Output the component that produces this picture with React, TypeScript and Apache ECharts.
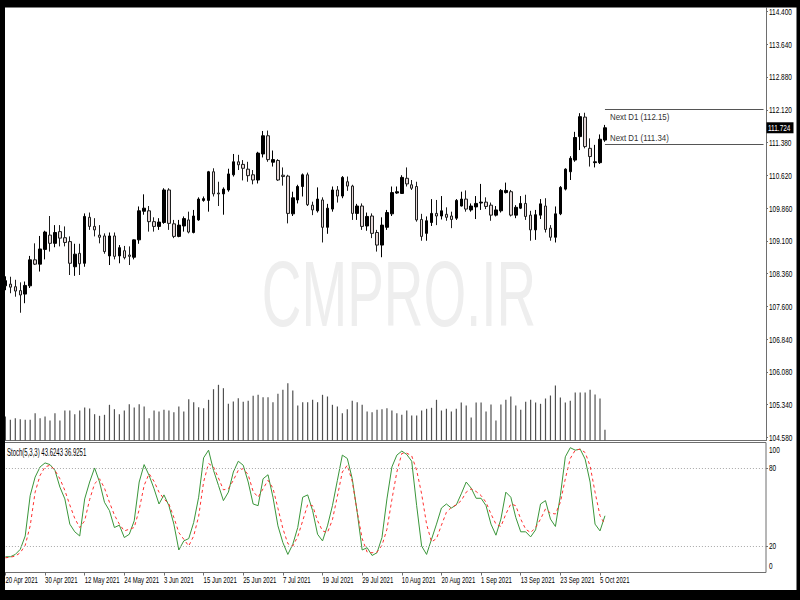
import React, { useEffect, useRef } from "react";
import * as echarts from "echarts";

// ---------- DATA ----------
const dates = [
  "20 Apr 2021", "21 Apr 2021", "22 Apr 2021", "23 Apr 2021", "26 Apr 2021", "27 Apr 2021", "28 Apr 2021", "29 Apr 2021", "30 Apr 2021",
  "3 May 2021", "4 May 2021", "5 May 2021", "6 May 2021", "7 May 2021", "10 May 2021", "11 May 2021", "12 May 2021", "13 May 2021", "14 May 2021",
  "17 May 2021", "18 May 2021", "19 May 2021", "20 May 2021", "21 May 2021", "24 May 2021", "25 May 2021", "26 May 2021", "27 May 2021", "28 May 2021", "31 May 2021",
  "1 Jun 2021", "2 Jun 2021", "3 Jun 2021", "4 Jun 2021", "7 Jun 2021", "8 Jun 2021", "9 Jun 2021", "10 Jun 2021", "11 Jun 2021", "14 Jun 2021", "15 Jun 2021",
  "16 Jun 2021", "17 Jun 2021", "18 Jun 2021", "21 Jun 2021", "22 Jun 2021", "23 Jun 2021", "24 Jun 2021", "25 Jun 2021", "28 Jun 2021", "29 Jun 2021", "30 Jun 2021",
  "1 Jul 2021", "2 Jul 2021", "5 Jul 2021", "6 Jul 2021", "7 Jul 2021", "8 Jul 2021", "9 Jul 2021", "12 Jul 2021", "13 Jul 2021", "14 Jul 2021", "15 Jul 2021",
  "16 Jul 2021", "19 Jul 2021", "20 Jul 2021", "21 Jul 2021", "22 Jul 2021", "23 Jul 2021", "26 Jul 2021", "27 Jul 2021", "28 Jul 2021", "29 Jul 2021", "30 Jul 2021",
  "2 Aug 2021", "3 Aug 2021", "4 Aug 2021", "5 Aug 2021", "6 Aug 2021", "9 Aug 2021", "10 Aug 2021", "11 Aug 2021", "12 Aug 2021", "13 Aug 2021", "16 Aug 2021",
  "17 Aug 2021", "18 Aug 2021", "19 Aug 2021", "20 Aug 2021", "23 Aug 2021", "24 Aug 2021", "25 Aug 2021", "26 Aug 2021", "27 Aug 2021", "30 Aug 2021", "31 Aug 2021",
  "1 Sep 2021", "2 Sep 2021", "3 Sep 2021", "6 Sep 2021", "7 Sep 2021", "8 Sep 2021", "9 Sep 2021", "10 Sep 2021", "13 Sep 2021", "14 Sep 2021", "15 Sep 2021",
  "16 Sep 2021", "17 Sep 2021", "20 Sep 2021", "21 Sep 2021", "22 Sep 2021", "23 Sep 2021", "24 Sep 2021", "27 Sep 2021", "28 Sep 2021", "29 Sep 2021", "30 Sep 2021",
  "1 Oct 2021", "4 Oct 2021", "5 Oct 2021", "6 Oct 2021",
];

const opens = [
  108.08, 108.12, 108.06, 107.97, 107.89, 108.08, 108.68, 108.58, 108.92, 109.25,
  109.06, 109.33, 109.19, 109.10, 108.52, 108.83, 108.60, 109.66, 109.45, 109.25,
  109.23, 108.77, 109.23, 108.77, 108.89, 108.79, 108.74, 109.14, 109.80, 109.81,
  109.56, 109.45, 109.54, 110.29, 109.51, 109.22, 109.46, 109.60, 109.31, 109.60,
  110.05, 110.05, 110.71, 110.22, 110.20, 110.29, 110.64, 110.94, 110.88, 110.77,
  110.64, 110.52, 111.12, 111.54, 110.93, 110.97, 110.63, 110.61, 109.74, 110.06,
  110.37, 110.64, 109.94, 109.81, 110.06, 109.43, 109.85, 110.29, 110.15, 110.48,
  110.38, 109.75, 109.92, 109.46, 109.69, 109.31, 109.02, 109.43, 109.74, 110.22,
  110.21, 110.56, 110.41, 110.37, 109.61, 109.29, 109.54, 109.75, 109.69, 109.73,
  109.69, 109.64, 109.92, 110.08, 109.83, 109.90, 109.99, 110.01, 109.94, 109.71,
  109.81, 110.23, 110.25, 109.71, 109.87, 109.98, 109.71, 109.37, 109.71, 109.92,
  109.41, 109.20, 109.74, 110.31, 110.71, 110.98, 111.52, 111.97, 111.25, 110.92,
  110.92, 111.44,
];
const highs = [
  108.30, 108.29, 108.22, 108.16, 108.18, 108.77, 109.06, 109.23, 109.35, 109.69,
  109.48, 109.48, 109.45, 109.22, 109.05, 109.05, 109.75, 109.77, 109.64, 109.48,
  109.29, 109.31, 109.31, 109.02, 109.00, 108.99, 109.15, 109.91, 110.19, 109.92,
  109.66, 109.64, 110.33, 110.33, 109.60, 109.60, 109.68, 109.79, 109.83, 110.12,
  110.14, 110.73, 110.79, 110.48, 110.35, 110.78, 111.12, 111.10, 110.98, 110.94,
  110.75, 111.17, 111.65, 111.66, 111.20, 111.00, 110.81, 110.64, 110.25, 110.41,
  110.67, 110.69, 110.02, 110.35, 110.12, 109.97, 110.37, 110.38, 110.61, 110.60,
  110.41, 109.97, 109.98, 109.77, 109.75, 109.37, 109.66, 109.83, 110.37, 110.37,
  110.63, 110.81, 110.52, 110.48, 109.74, 109.68, 110.08, 110.06, 110.15, 109.89,
  109.79, 110.08, 110.25, 110.28, 109.98, 110.15, 110.43, 110.12, 110.00, 109.92,
  110.31, 110.46, 110.29, 109.94, 110.15, 110.18, 109.81, 109.83, 110.08, 110.10,
  109.48, 109.91, 110.38, 110.79, 111.07, 111.63, 112.06, 112.07, 111.48, 111.33,
  111.57, 111.79,
];
const lows = [
  107.98, 107.91, 107.83, 107.46, 107.68, 108.03, 108.56, 108.41, 108.69, 108.87,
  108.97, 108.99, 108.99, 108.33, 108.31, 108.33, 108.52, 109.37, 109.22, 109.06,
  108.82, 108.56, 108.69, 108.60, 108.69, 108.56, 108.69, 109.05, 109.72, 109.33,
  109.33, 109.37, 109.51, 109.37, 109.18, 109.20, 109.33, 109.29, 109.29, 109.58,
  110.02, 109.79, 110.14, 109.92, 109.72, 110.25, 110.60, 110.75, 110.51, 110.48,
  110.42, 110.44, 111.04, 110.94, 110.83, 110.50, 110.39, 109.52, 109.69, 109.98,
  110.14, 109.92, 109.71, 109.77, 109.08, 109.28, 109.79, 110.00, 110.10, 110.27,
  109.60, 109.60, 109.37, 109.35, 109.18, 108.87, 108.74, 109.37, 109.69, 110.20,
  110.20, 110.37, 110.29, 109.56, 109.12, 109.12, 109.46, 109.48, 109.61, 109.58,
  109.41, 109.60, 109.91, 109.79, 109.79, 109.62, 109.83, 109.85, 109.58, 109.68,
  109.77, 110.21, 109.68, 109.64, 109.85, 109.60, 109.12, 109.14, 109.62, 109.31,
  109.12, 109.08, 109.71, 110.28, 110.52, 110.94, 111.21, 111.25, 110.83, 110.81,
  110.89, 111.40,
];
const closes = [
  108.20, 108.05, 107.96, 107.87, 108.09, 108.68, 108.58, 108.93, 109.32, 109.06,
  109.31, 109.18, 109.08, 108.60, 108.81, 108.59, 109.68, 109.45, 109.37, 109.20,
  108.87, 109.23, 108.76, 108.96, 108.73, 108.76, 109.14, 109.81, 109.87, 109.56,
  109.45, 109.55, 110.29, 109.52, 109.22, 109.48, 109.63, 109.32, 109.69, 110.08,
  110.09, 110.71, 110.20, 110.20, 110.31, 110.66, 110.94, 110.87, 110.79, 110.62,
  110.52, 111.14, 111.54, 110.99, 110.99, 110.52, 110.60, 109.75, 110.11, 110.37,
  110.64, 109.95, 109.83, 110.08, 109.43, 109.87, 110.29, 110.15, 110.58, 110.38,
  109.75, 109.92, 109.45, 109.68, 109.29, 109.02, 109.48, 109.77, 110.23, 110.25,
  110.58, 110.43, 110.33, 109.60, 109.22, 109.58, 109.75, 109.69, 109.81, 109.66,
  109.61, 110.05, 110.08, 109.85, 109.92, 109.98, 110.01, 109.91, 109.71, 109.83,
  110.28, 110.28, 109.71, 109.89, 109.98, 109.68, 109.37, 109.72, 109.97, 109.38,
  109.20, 109.74, 110.35, 110.77, 111.02, 111.50, 111.98, 111.29, 111.06, 110.94,
  111.46, 111.724,
];

// tick volume, thousands
const volumes = [
  24.0, 20.7, 22.3, 21.3, 20.7, 20.7, 27.3, 22.3, 24.0, 20.0,
  27.3, 20.0, 30.0, 30.0, 26.3, 30.0, 33.0, 32.0, 26.3, 24.7,
  25.7, 35.7, 31.3, 26.3, 30.0, 36.3, 33.0, 36.3, 34.0, 22.3,
  30.0, 29.0, 30.7, 30.0, 28.3, 34.0, 29.0, 41.3, 38.3, 33.3,
  32.3, 40.7, 51.3, 55.7, 52.3, 36.7, 39.0, 42.3, 38.7, 39.7,
  44.7, 45.7, 43.3, 43.3, 38.3, 46.7, 50.7, 57.3, 50.0, 35.0,
  38.3, 38.3, 40.7, 38.3, 45.7, 44.0, 35.7, 34.0, 27.3, 31.3,
  39.7, 38.3, 35.7, 29.0, 28.3, 30.7, 31.3, 32.3, 30.0, 27.3,
  25.7, 30.0, 25.0, 25.0, 30.0, 31.7, 32.7, 40.7, 30.0, 31.7,
  29.0, 31.7, 38.0, 35.0, 23.0, 38.0, 38.0, 29.0, 36.0, 20.0,
  36.0, 40.7, 44.0, 35.0, 30.7, 38.7, 40.7, 38.0, 36.7, 42.0,
  45.0, 55.0, 43.0, 38.0, 39.7, 48.0, 48.0, 48.0, 50.7, 46.0,
  42.0, 10.7,
];

const stochK = [
  12.1, 12.1, 13.9, 17.8, 28.1, 59.2, 73.4, 81.2, 84.3, 83.0,
  78.6, 65.7, 56.6, 37.2, 31.3, 28.1, 56.6, 69.6, 80.4, 69.6,
  54.0, 47.6, 34.6, 36.4, 26.9, 29.4, 39.8, 69.6, 83.0, 74.7,
  64.4, 52.7, 59.7, 51.4, 37.2, 17.3, 24.3, 26.1, 38.5, 57.9,
  88.2, 94.1, 78.6, 67.0, 55.3, 61.8, 77.3, 85.6, 82.5, 69.6,
  52.7, 51.4, 72.1, 75.2, 57.9, 35.9, 23.0, 13.9, 21.7, 34.6,
  57.9, 59.7, 47.6, 29.4, 24.3, 35.9, 51.4, 70.9, 90.3, 87.7,
  72.1, 46.3, 17.3, 19.1, 13.1, 15.2, 26.9, 56.6, 81.2, 90.3,
  93.4, 90.8, 85.6, 51.4, 20.4, 13.9, 25.6, 37.2, 49.6, 52.7,
  49.6, 52.0, 60.5, 69.6, 64.9, 57.1, 57.1, 51.4, 37.2, 28.7,
  41.1, 61.8, 57.9, 42.4, 31.3, 31.3, 27.4, 32.8, 52.7, 55.3,
  41.1, 35.4, 59.2, 89.0, 96.0, 94.1, 94.9, 87.2, 69.6, 37.2,
  32.0, 43.6243,
];
const stochD = [
  11.3, 11.8, 12.6, 15.2, 20.9, 35.9, 61.8, 74.7, 81.2, 82.5,
  78.6, 72.1, 63.1, 51.9, 41.6, 34.6, 39.8, 56.1, 68.3, 72.1,
  64.9, 54.0, 44.2, 37.2, 32.0, 33.3, 34.6, 48.3, 67.0, 76.0,
  70.1, 61.8, 56.6, 52.7, 42.4, 30.7, 25.6, 20.4, 28.1, 43.2,
  69.6, 83.8, 81.2, 72.7, 63.6, 64.4, 70.9, 78.6, 79.9, 75.2,
  62.3, 57.9, 64.4, 70.9, 64.9, 49.4, 33.8, 22.2, 20.4, 27.6,
  39.8, 52.2, 51.4, 39.8, 32.0, 30.7, 40.6, 58.7, 77.3, 82.5,
  70.1, 46.8, 26.1, 15.7, 15.2, 15.7, 20.9, 33.3, 56.1, 77.3,
  91.6, 91.8, 89.7, 78.6, 60.5, 37.2, 23.5, 26.1, 36.4, 46.3,
  50.1, 52.0, 55.3, 61.8, 64.4, 62.3, 59.2, 54.0, 45.0, 37.2,
  35.4, 45.0, 52.7, 51.4, 41.1, 33.3, 30.7, 34.6, 41.1, 48.9,
  45.7, 45.0, 54.0, 72.1, 87.7, 94.1, 94.9, 92.3, 82.0, 61.8,
  43.7, 36.9251,
];

const priceTicks = [114.4, 113.64, 112.88, 112.12, 111.38, 110.62, 109.86, 109.1, 108.36, 107.6, 106.84, 106.08, 105.34, 104.58];
const stochTicks = [0, 20, 80, 100];
const stochLevels = [20, 80];
const nextD1High = 112.15;
const nextD1Low = 111.34;
const currentPrice = 111.724;
const futureSlots = 32; // empty space to the right (chart shift)
const stochParams = "5,3,3";
const watermark = "CMPRO.IR";

// ---------- LAYOUT / STYLE ----------
const TEXT_FONT = '"Liberation Sans", Arial, sans-serif';
const AXIS_COLOR = "#6e6e6e";
const GRID_LEFT = 2.92;
const GRID_RIGHT = 34;
const LABEL_X = 769; // left edge of right-hand axis labels

export default function App() {
  const ref = useRef<HTMLDivElement>(null);

  useEffect(() => {
    if (!ref.current) return;
    const chart = echarts.init(ref.current, null, { renderer: "svg" });
    const N = dates.length;
    const categories = [...dates, ...Array.from({ length: futureSlots }, (_, k) => `+${k + 1}`)];
    const lastSlot = categories.length - 1;
    const candleData = opens.map((o, i) => [o, closes[i], lows[i], highs[i]]);
    const showDate = (i: number) => i % 8 === 0 && i < N;

    const option: any = {
      animation: false,
      backgroundColor: "#ffffff",
      grid: [
        { left: GRID_LEFT, right: GRID_RIGHT, top: 8, height: 432.5 },
        { left: GRID_LEFT, right: GRID_RIGHT, top: 380.5, height: 60 },
        {
          left: GRID_LEFT, right: GRID_RIGHT, top: 442.5, height: 130,
          show: true, borderColor: AXIS_COLOR, borderWidth: 1, backgroundColor: "transparent",
        },
      ],
      xAxis: [
        {
          type: "category", gridIndex: 0, data: categories, boundaryGap: true,
          axisLine: { show: true, onZero: false, lineStyle: { color: AXIS_COLOR } },
          axisTick: { show: false }, axisLabel: { show: false }, splitLine: { show: false },
        },
        { type: "category", gridIndex: 1, data: categories, boundaryGap: true, show: false },
        {
          type: "category", gridIndex: 2, data: categories, boundaryGap: true,
          axisLine: { show: false },
          axisTick: {
            show: true, alignWithLabel: true, length: 3,
            interval: (i: number) => showDate(i), lineStyle: { color: AXIS_COLOR },
          },
          axisLabel: { show: false },
          splitLine: { show: false },
        },
      ],
      yAxis: [
        {
          type: "value", gridIndex: 0, position: "right", min: 104.515, max: 114.485,
          axisLine: { show: true, onZero: false, lineStyle: { color: AXIS_COLOR } },
          axisTick: { show: true, customValues: priceTicks, length: 2, lineStyle: { color: AXIS_COLOR } },
          axisLabel: { show: false },
          splitLine: { show: false },
        },
        { type: "value", gridIndex: 1, min: 0, max: 60, show: false },
        {
          type: "value", gridIndex: 2, position: "right", min: 0, max: 100,
          axisLine: { show: false },
          axisTick: { show: true, customValues: stochLevels, length: 2, lineStyle: { color: AXIS_COLOR } },
          axisLabel: { show: false },
          splitLine: { show: false },
        },
      ],
      series: [
        {
          type: "candlestick", name: "price", xAxisIndex: 0, yAxisIndex: 0,
          data: candleData, barWidth: 3,
          itemStyle: { color: "#000000", color0: "#e4d7d7", borderColor: "#000000", borderColor0: "#1e1e1e", borderWidth: 1 },
          z: 3,
          markLine: {
            silent: true, symbol: ["none", "none"], animation: false,
            label: { show: false },
            lineStyle: { color: "#555", width: 1, type: "solid" },
            data: [
              [{ coord: [N - 1, nextD1High] }, { coord: [lastSlot, nextD1High] }],
              [{ coord: [N - 1, nextD1Low] }, { coord: [lastSlot, nextD1Low] }],
            ],
          },
        },
        {
          type: "bar", name: "volume", xAxisIndex: 1, yAxisIndex: 1,
          data: volumes, barWidth: 1.2, silent: true,
          itemStyle: { color: "#505050" },
        },
        {
          type: "line", name: "%K", xAxisIndex: 2, yAxisIndex: 2, data: stochK,
          symbol: "none", silent: true,
          lineStyle: { color: "#3a963a", width: 1 },
          markLine: {
            silent: true, symbol: ["none", "none"], animation: false,
            label: { show: false },
            lineStyle: { color: "#a8a8a8", width: 1, type: [1, 2] },
            data: stochLevels.map((v) => ({ yAxis: v })),
          },
        },
        {
          type: "line", name: "%D", xAxisIndex: 2, yAxisIndex: 2, data: stochD,
          symbol: "none", silent: true,
          lineStyle: { color: "#ff3030", width: 1, type: [3, 3] },
        },
      ],
    };

    chart.setOption(option);

    // Positions of the (horizontally condensed) texts come from the chart's own scales.
    const xDate = (i: number) => chart.convertToPixel({ xAxisIndex: 2 }, categories[i]) as number;
    const xMain = (i: number) => chart.convertToPixel({ xAxisIndex: 0 }, categories[i]) as number;
    const yMain = (v: number) => chart.convertToPixel({ yAxisIndex: 0 }, v) as number;
    const yStoch = (v: number) => chart.convertToPixel({ yAxisIndex: 2 }, v) as number;

    const txt = (id: string, x: number, y: number, text: string, sx: number, size: number, fill = "#000", align = "left") => ({
      id, type: "text", x, y, scaleX: sx, z: 20, silent: true,
      style: { text, fontSize: size, fontFamily: TEXT_FONT, fill, align, verticalAlign: "middle" },
    });

    const graphics: any[] = [
      {
        id: "wm", type: "text", x: 399, y: 294, scaleX: 0.59, z: 0, silent: true,
        style: { text: watermark, fontSize: 93, fontFamily: TEXT_FONT, fill: "#eeeeee", align: "center", verticalAlign: "middle" },
      },
      txt("stochTitle", 7, 452.7, `Stoch(${stochParams}) ${stochK[N - 1]} ${stochD[N - 1]}`, 0.6, 10),
    ];

    priceTicks.forEach((v, k) => graphics.push(txt(`p${k}`, LABEL_X, yMain(v), v.toFixed(3), 0.72, 9)));

    stochTicks.forEach((v, k) => {
      const shift = v === 100 ? 8 : v === 0 ? -6 : 0; // edge labels are drawn inside the panel
      graphics.push(txt(`s${k}`, LABEL_X, yStoch(v) + shift, String(v), 0.72, 9));
    });

    categories.forEach((c, i) => {
      if (showDate(i)) graphics.push(txt(`d${i}`, xDate(i), 580.5, c, 0.67, 9));
    });

    const xNext = xMain(N - 1) + 5;
    graphics.push(txt("nextHi", xNext, yMain(nextD1High) + 7.5, `Next D1 (${nextD1High.toFixed(2)})`, 0.83, 9.5, "#333"));
    graphics.push(txt("nextLo", xNext, yMain(nextD1Low) - 6.5, `Next D1 (${nextD1Low.toFixed(2)})`, 0.83, 9.5, "#333"));

    const yCur = yMain(currentPrice);
    graphics.push({
      id: "curBox", type: "rect", z: 19, silent: true,
      shape: { x: 766.5, y: yCur - 5.5, width: 27, height: 11 }, style: { fill: "#000" },
    });
    graphics.push(txt("curTxt", 768, yCur, currentPrice.toFixed(3), 0.72, 9, "#fff"));

    // outer black frame
    graphics.push(
      { id: "fT", type: "rect", z: 100, silent: true, shape: { x: 0, y: 0, width: 800, height: 7.5 }, style: { fill: "#000" } },
      { id: "fL", type: "rect", z: 100, silent: true, shape: { x: 0, y: 0, width: 5, height: 600 }, style: { fill: "#000" } },
      { id: "fR", type: "rect", z: 100, silent: true, shape: { x: 796.5, y: 0, width: 3.5, height: 600 }, style: { fill: "#000" } },
      { id: "fB", type: "rect", z: 100, silent: true, shape: { x: 0, y: 590, width: 800, height: 10 }, style: { fill: "#000" } },
    );

    chart.setOption({ graphic: graphics });
    return () => chart.dispose();
  }, []);

  return (
    <div
      ref={ref}
      style={{ position: "fixed", left: 0, top: 0, width: 800, height: 600, background: "#fff" }}
    />
  );
}
